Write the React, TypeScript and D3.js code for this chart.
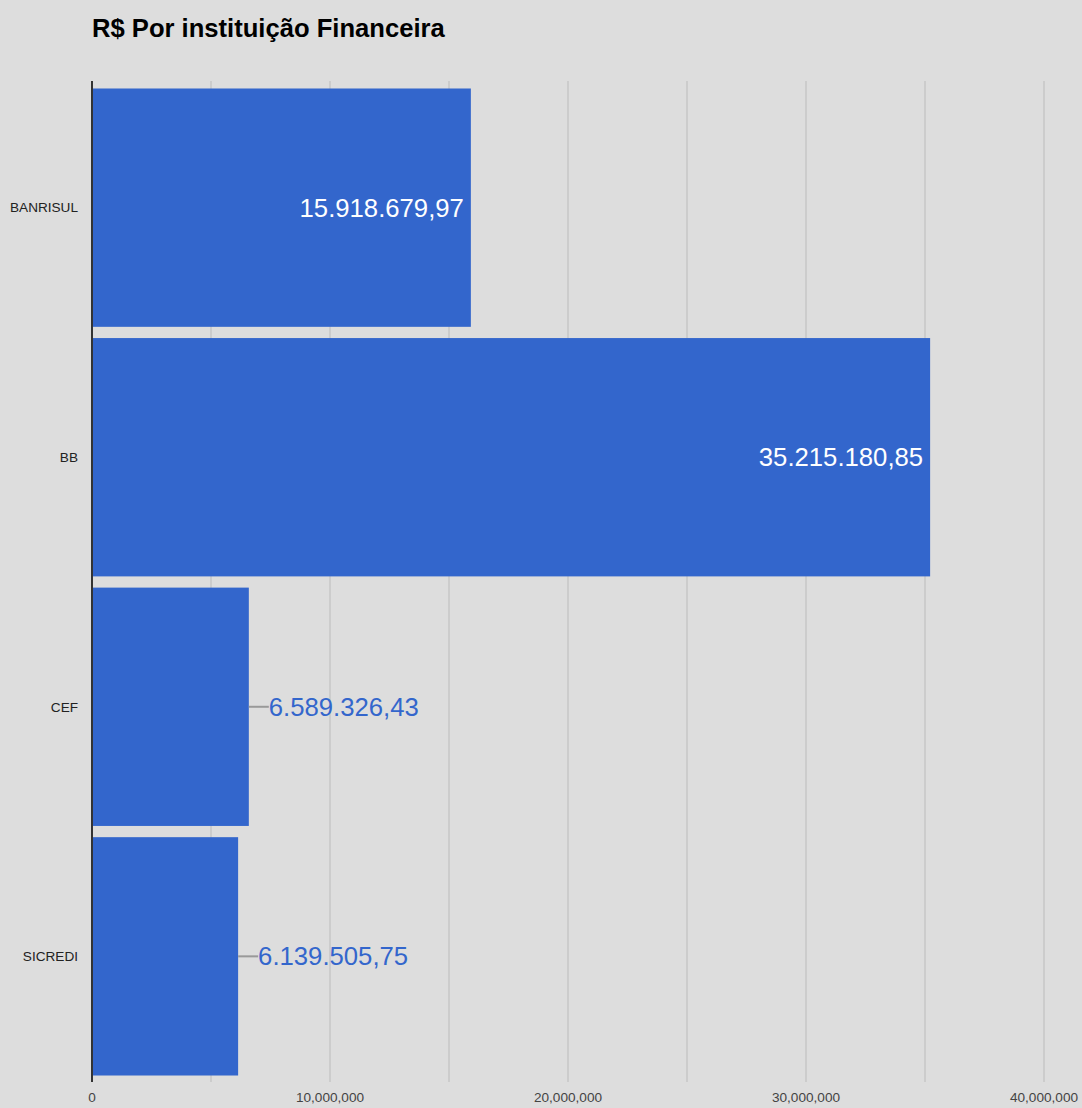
import React from "react";
import * as d3 from "d3";

const categories = ["BANRISUL", "BB", "CEF", "SICREDI"];
const values = [15918679.97, 35215180.85, 6589326.43, 6139505.75];
const xTicks = [0, 10000000, 20000000, 30000000, 40000000];
const gridTicks = [5000000, 10000000, 15000000, 20000000, 25000000, 30000000, 35000000, 40000000];

const W = 1082;
const H = 1108;
const FONT = "Arial, 'Liberation Sans', sans-serif";

const ptBR = d3.formatLocale({ decimal: ",", thousands: ".", grouping: [3], currency: ["R$", ""] });
const fmtValue = ptBR.format(",.2f");
const fmtTick = d3.format(",");

export default function App() {
	const x = d3.scaleLinear().domain([0, 40000000]).range([92, 1044]);
	const y = d3.scaleBand<string>().domain(categories).range([83, 1081]).paddingInner(0.045).paddingOuter(0.022);
	const data = categories.map((c, i) => ({ name: c, value: values[i] }));

	return (
		<svg width={W} height={H} style={{ position: "absolute", left: 0, top: 0, background: "#dddddd" }}>
			<rect x={0} y={0} width={W} height={H} fill="#dddddd" />
			<text x={92} y={37} fontFamily={FONT} fontSize={25.6} fontWeight="bold" fill="#000">
				R$ Por instituição Financeira
			</text>
			{gridTicks.map((t) => (
				<line key={t} x1={x(t)} x2={x(t)} y1={81} y2={1082} stroke="#cccccc" strokeWidth={2} />
			))}
			{data.map((d) => {
				const y0 = y(d.name)!;
				const bh = y.bandwidth();
				const cy = y0 + bh / 2;
				const xe = x(d.value);
				const inside = xe - x(0) > 200;
				return (
					<g key={d.name}>
						<rect x={x(0)} y={y0} width={xe - x(0)} height={bh} fill="#3366cc" />
						<text x={78} y={cy} dy="0.35em" textAnchor="end" fontFamily={FONT} fontSize={13.6} fill="#222">
							{d.name}
						</text>
						{inside ? (
							<text x={xe - 7} y={cy} dy="0.35em" textAnchor="end" fontFamily={FONT} fontSize={25.7} fill="#ffffff">
								{fmtValue(d.value)}
							</text>
						) : (
							<>
								<line x1={xe} x2={xe + 20} y1={cy} y2={cy} stroke="#999999" strokeWidth={2} />
								<text x={xe + 20} y={cy} dy="0.35em" textAnchor="start" fontFamily={FONT} fontSize={25.7} fill="#3366cc">
									{fmtValue(d.value)}
								</text>
							</>
						)}
					</g>
				);
			})}
			<line x1={x(0)} x2={x(0)} y1={81} y2={1082} stroke="#333333" strokeWidth={2} />
			{xTicks.map((t) => (
				<text key={t} x={x(t)} y={1102} textAnchor="middle" fontFamily={FONT} fontSize={13.6} fill="#444">
					{fmtTick(t)}
				</text>
			))}
		</svg>
	);
}
